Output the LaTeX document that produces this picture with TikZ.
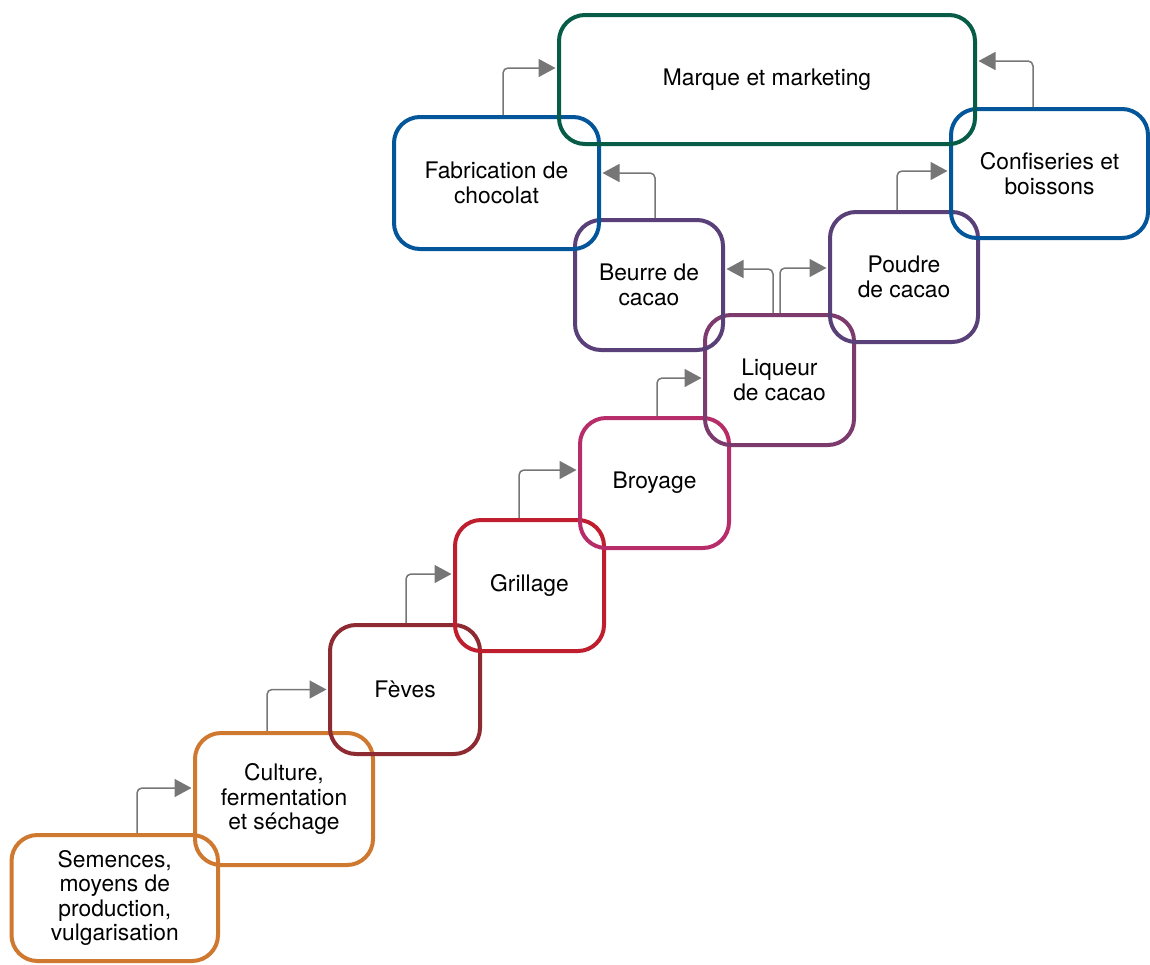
\documentclass[tikz,border=0pt]{standalone}
\usepackage{fontspec}
\setmainfont{TeX Gyre Heros}
\usetikzlibrary{arrows.meta}
\definecolor{corange}{HTML}{CF7830}
\definecolor{cdred}{HTML}{8D2A32}
\definecolor{cred}{HTML}{BF1E2E}
\definecolor{cmag}{HTML}{B72D6A}
\definecolor{cliq}{HTML}{7D3A6C}
\definecolor{cpurp}{HTML}{5A4078}
\definecolor{cblue}{HTML}{03569A}
\definecolor{cgreen}{HTML}{065C47}
\definecolor{carrow}{HTML}{767676}
\tikzset{
  stage/.style={draw=#1, line width=4pt, rounded corners=26pt, inner sep=0pt,
    align=center, font=\fontsize{22.8}{24.5}\selectfont, text=black},
  arr/.style={draw=carrow, line width=1.5pt, rounded corners=5pt,
    -{Triangle[length=17pt,width=18pt]}, shorten >=1.5pt}
}
\begin{document}
\begin{tikzpicture}[x=1pt,y=-1pt]
\useasboundingbox (0,0) rectangle (1150,964);
\node[stage=corange, minimum width=206.5pt, minimum height=126pt] (sem) at (114.75,898) {Semences,\\moyens de\\production,\\vulgarisation};
\node[stage=corange, minimum width=178pt, minimum height=132pt] (cul) at (284,799) {Culture,\\fermentation\\et séchage};
\node[stage=cdred, minimum width=150pt, minimum height=129pt] (fev) at (405,689.5) {Fèves};
\node[stage=cred, minimum width=149pt, minimum height=131pt] (gri) at (529.5,585.5) {Grillage};
\node[stage=cmag, minimum width=149pt, minimum height=130pt] (bro) at (654.5,483) {Broyage};
\node[stage=cliq, minimum width=149pt, minimum height=130pt] (liq) at (779.5,380) {Liqueur\\de cacao};
\node[stage=cpurp, minimum width=148pt, minimum height=130pt] (beu) at (649,285) {Beurre de\\cacao};
\node[stage=cpurp, minimum width=148pt, minimum height=130pt] (pou) at (904,277) {Poudre\\de cacao};
\node[stage=cblue, minimum width=205pt, minimum height=132pt] (fab) at (496.5,183) {Fabrication de\\chocolat};
\node[stage=cblue, minimum width=197pt, minimum height=129pt] (con) at (1049.5,173.5) {Confiseries et\\boissons};
\node[stage=cgreen, minimum width=416pt, minimum height=129pt] (mar) at (767,79.5) {Marque et marketing};

\draw[arr] ([xshift=22.25pt]sem.north) |- ([yshift=11pt]cul.west);
\draw[arr] ([xshift=-17pt]cul.north) |- (fev.west);
\draw[arr] ([xshift=1pt]fev.north) |- ([yshift=11.5pt]gri.west);
\draw[arr] ([xshift=-10.5pt]gri.north) |- ([yshift=13pt]bro.west);
\draw[arr] ([xshift=2.5pt]bro.north) |- ([yshift=2pt]liq.west);
\draw[arr] ([xshift=-6.5pt]liq.north) |- ([yshift=16pt]beu.east);
\draw[arr] ([xshift=0.5pt]liq.north) |- ([yshift=9pt]pou.west);
\draw[arr] ([xshift=6pt]beu.north) |- ([yshift=10pt]fab.east);
\draw[arr] ([xshift=-7pt]pou.north) |- ([yshift=2.5pt]con.west);
\draw[arr] ([xshift=6.5pt]fab.north) |- ([yshift=11.5pt]mar.west);
\draw[arr] ([xshift=-16.5pt]con.north) |- ([yshift=18.5pt]mar.east);
\end{tikzpicture}
\end{document}
